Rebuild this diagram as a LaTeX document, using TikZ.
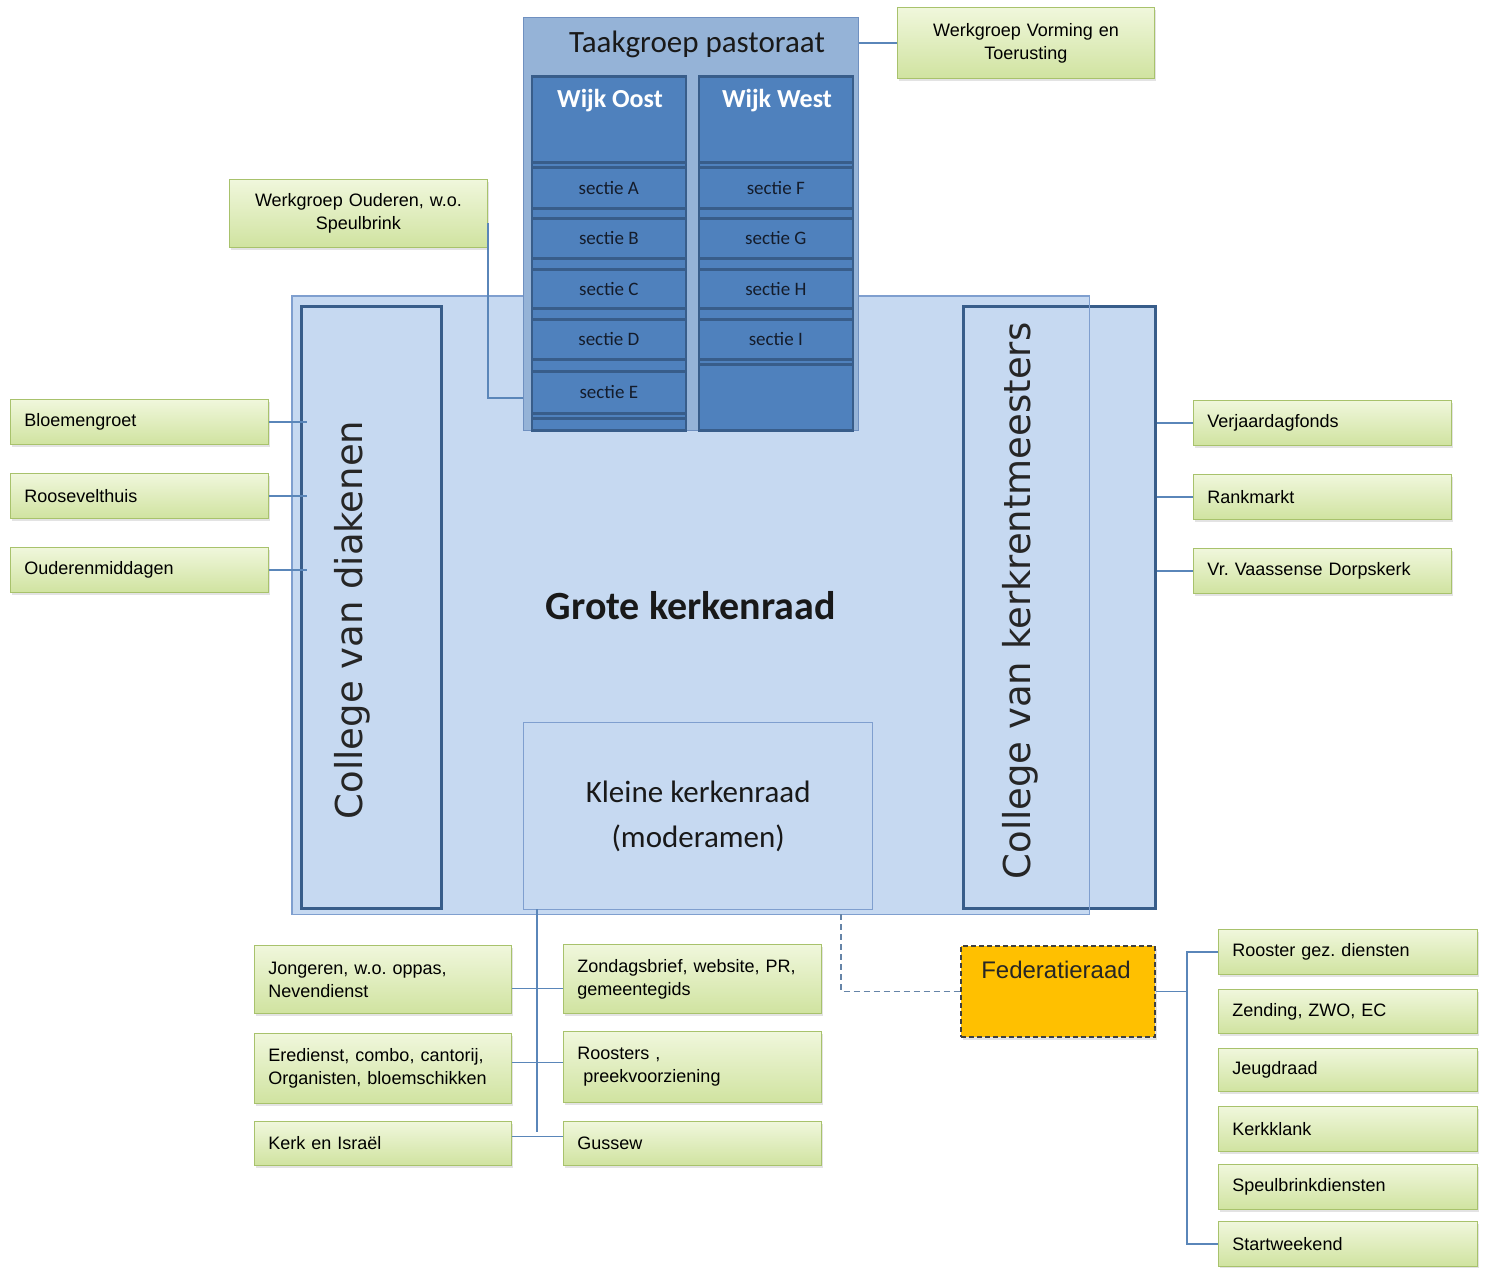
\documentclass[tikz,border=0pt]{standalone}
\usepackage{fontspec}
\setmainfont{Liberation Sans}
\newfontfamily\calib{Carlito}
\newfontfamily\dejav{DejaVu Sans}
\usetikzlibrary{shadows}
\frenchspacing
\definecolor{bigfill}{HTML}{C6D9F1}
\definecolor{bigline}{HTML}{7F9FCF}
\definecolor{darkline}{HTML}{385D8A}
\definecolor{midblue}{HTML}{4F81BD}
\definecolor{tpfill}{HTML}{95B3D7}
\definecolor{tpline}{HTML}{6F90C0}
\definecolor{gtop}{HTML}{F0F7DC}
\definecolor{gbot}{HTML}{D0E3A0}
\definecolor{gline}{HTML}{A8C26C}
\definecolor{conn}{HTML}{5A86B9}
\definecolor{fedfill}{HTML}{FFC000}
\definecolor{sectxt}{HTML}{141C2B}
\tikzset{
  gbox/.style={draw=gline, line width=0.9pt, top color=gtop, bottom color=gbot,
    drop shadow={opacity=0.22, shadow xshift=2pt, shadow yshift=-3pt},
    inner xsep=14pt, inner ysep=0pt, anchor=north west, align=left,
    font=\fontsize{18}{23}\selectfont, text=black},
  gboxc/.style={gbox, align=center},
  conn/.style={draw=conn, line width=1.4pt},
  cell/.style={draw=darkline, line width=2.6pt, fill=midblue, anchor=north west,
    minimum width=154pt, inner sep=0pt, text=sectxt, font=\calib\fontsize{19}{22}\selectfont},
  wijktxt/.style={text=white, font=\calib\bfseries\fontsize{26}{30}\selectfont},
  college/.style={rotate=90, font=\dejav\fontsize{37}{40}\selectfont, text=black!85},
}
\begin{document}
\begin{tikzpicture}[x=1pt,y=-1pt]
\useasboundingbox[fill=white] (0,0) rectangle (1485,1268);

% big box fill
\node[fill=bigfill, anchor=north west, minimum width=797pt, minimum height=618pt, inner sep=0pt,
  font=\calib\bfseries\fontsize{40}{44}\selectfont, text=black!90] (gk) at (292,296) {Grote kerkenraad};

% colleges
\node[draw=darkline, line width=3.5pt, fill=bigfill, anchor=north west, minimum width=140pt,
  minimum height=602pt, inner sep=0pt] (diak) at (299.5,304.5) {};
\node[college] (diaktxt) at (352,620) {College van diakenen};
\node[draw=darkline, line width=3.5pt, fill=bigfill, anchor=north west, minimum width=192pt,
  minimum height=602pt, inner sep=0pt] (kk) at (961.5,304.5) {};
\node[college] (kktxt) at (1020,601) {College van kerkrentmeesters};

% big box outline on top
\draw[bigline, line width=1.3pt] (gk.north west) rectangle (gk.south east);

% Kleine kerkenraad
\node[draw=bigline, line width=1.3pt, fill=bigfill, anchor=north west, minimum width=349pt,
  minimum height=187pt, inner sep=0pt, align=center,
  font=\calib\fontsize{31}{45}\selectfont, text=black!90] (kl) at (523,722) {Kleine kerkenraad\\(moderamen)};

% Taakgroep pastoraat
\node[draw=tpline, line width=1.3pt, fill=tpfill, anchor=north west, minimum width=335pt,
  minimum height=413pt, inner sep=0pt] (tp) at (523,17) {};
\node[font=\calib\fontsize{31}{34}\selectfont, text=black!90] (tptxt) at (697,44) {Taakgroep pastoraat};

% Wijk Oost column
\node[cell, minimum height=354pt] (wocol) at (530.5,75.5) {};
\node[cell, minimum height=86pt] (wo) at (530.5,75.5) {};
\node[wijktxt] (wotxt) at (610,101) {Wijk Oost};
\node[cell, minimum height=41pt] (sa) at (530.5,166) {sectie A};
\node[cell, minimum height=40pt] (sb) at (530.5,217) {sectie B};
\node[cell, minimum height=39pt] (sc) at (530.5,268) {sectie C};
\node[cell, minimum height=40pt] (sd) at (530.5,318) {sectie D};
\node[cell, minimum height=42pt] (se) at (530.5,370) {sectie E};
\node[cell, minimum height=12pt] (sx) at (530.5,417) {};

% Wijk West column
\node[cell, minimum height=354pt] (wwcol) at (697.5,75.5) {};
\node[cell, minimum height=86pt] (ww) at (697.5,75.5) {};
\node[wijktxt] (wwtxt) at (777,101) {Wijk West};
\node[cell, minimum height=41pt] (sf) at (697.5,166) {sectie F};
\node[cell, minimum height=40pt] (sg) at (697.5,217) {sectie G};
\node[cell, minimum height=39pt] (sh) at (697.5,268) {sectie H};
\node[cell, minimum height=40pt] (si) at (697.5,318) {sectie I};
\node[cell, minimum height=66pt] (sy) at (697.5,363) {};

% Werkgroepen top
\node[gboxc, text width=229pt, minimum height=71pt] (wv) at (897,7) {Werkgroep Vorming en\\Toerusting};
\node[gboxc, text width=230pt, minimum height=68pt] (wog) at (229,179) {Werkgroep Ouderen, w.o.\\Speulbrink};
\draw[conn] (wv.west -| tp.east) -- (wv.west);
\coordinate (woj) at (523,398);
\draw[conn] ([yshift=-10pt]wog.east) |- (woj);

% left green
\node[gbox, text width=230pt, minimum height=45pt] (bl) at (10,399) {Bloemengroet};
\node[gbox, text width=230pt, minimum height=45pt] (rh) at (10,473) {Roosevelthuis};
\node[gbox, text width=230pt, minimum height=45pt] (om) at (10,547) {Ouderenmiddagen};
\foreach \n in {bl,rh,om}{\draw[conn] (\n.east) -- ([xshift=7pt]\n.east -| diak.west);}

% right green
\node[gbox, text width=230pt, minimum height=45pt] (vf) at (1193,400) {Verjaardagfonds};
\node[gbox, text width=230pt, minimum height=45pt] (rm) at (1193,474) {Rankmarkt};
\node[gbox, text width=230pt, minimum height=45pt] (vv) at (1193,548) {Vr. Vaassense Dorpskerk};
\foreach \n in {vf,rm,vv}{\draw[conn] (\n.west -| kk.east) -- (\n.west);}

% bottom tree
\node[gbox, text width=229pt, minimum height=68pt] (jo) at (254,945) {Jongeren, w.o. oppas,\\Nevendienst};
\node[gbox, text width=229pt, minimum height=70pt] (ed) at (254,1033) {Eredienst, combo, cantorij,\\Organisten, bloemschikken};
\node[gbox, text width=229pt, minimum height=44pt] (ki) at (254,1121) {Kerk en Israël};
\node[gbox, text width=230pt, minimum height=69pt] (zo) at (563,944) {Zondagsbrief, website, PR,\\gemeentegids};
\node[gbox, text width=230pt, minimum height=71pt] (ro) at (563,1031) {Roosters ,\\\ preekvoorziening};
\node[gbox, text width=230pt, minimum height=44pt] (gu) at (563,1121) {Gussew};
\coordinate (tt) at (537,909);
\coordinate (tb) at (537,1132);
\draw[conn] (tt) -- (tb);
\draw[conn] ([yshift=-9pt]jo.east) -- ([yshift=-9pt]jo.east -| zo.west);
\draw[conn] ([yshift=6pt]ed.east) -- ([yshift=6pt]ed.east -| ro.west);
\draw[conn] ([yshift=7pt]ki.east) -- ([yshift=7pt]ki.east -| gu.west);

% Federatieraad
\node[draw=black!75, dash pattern=on 5pt off 3pt, line width=1.6pt, fill=fedfill, anchor=north west, minimum width=194pt,
  minimum height=91pt, inner sep=0pt,
  drop shadow={opacity=0.22, shadow xshift=2pt, shadow yshift=-3pt}] (fed) at (960,945) {};
\node[font=\fontsize{24}{28}\selectfont, text=black!85] (fedtxt) at (1056,970) {Federatieraad};
\coordinate (dd) at (841,914);
\draw[draw=conn!70!gray, dash pattern=on 6pt off 4pt, line width=1.5pt] (dd) |- (fed.west);

\node[gbox, text width=231pt, minimum height=45pt] (r1) at (1218,929) {Rooster gez. diensten};
\node[gbox, text width=231pt, minimum height=44pt] (r2) at (1218,989) {Zending, ZWO, EC};
\node[gbox, text width=231pt, minimum height=43pt] (r3) at (1218,1048) {Jeugdraad};
\node[gbox, text width=231pt, minimum height=45pt] (r4) at (1218,1106) {Kerkklank};
\node[gbox, text width=231pt, minimum height=45pt] (r5) at (1218,1164) {Speulbrinkdiensten};
\node[gbox, text width=231pt, minimum height=45pt] (r6) at (1218,1221) {Startweekend};
\coordinate (ftr) at ([xshift=-31pt]r1.west);
\coordinate (fbr) at ([xshift=-31pt]r6.west);
\draw[conn] (r1.west) -- (ftr) -- (fbr) -- (r6.west);
\draw[conn] (fed.east) -- (fed.east -| ftr);
\end{tikzpicture}
\end{document}
